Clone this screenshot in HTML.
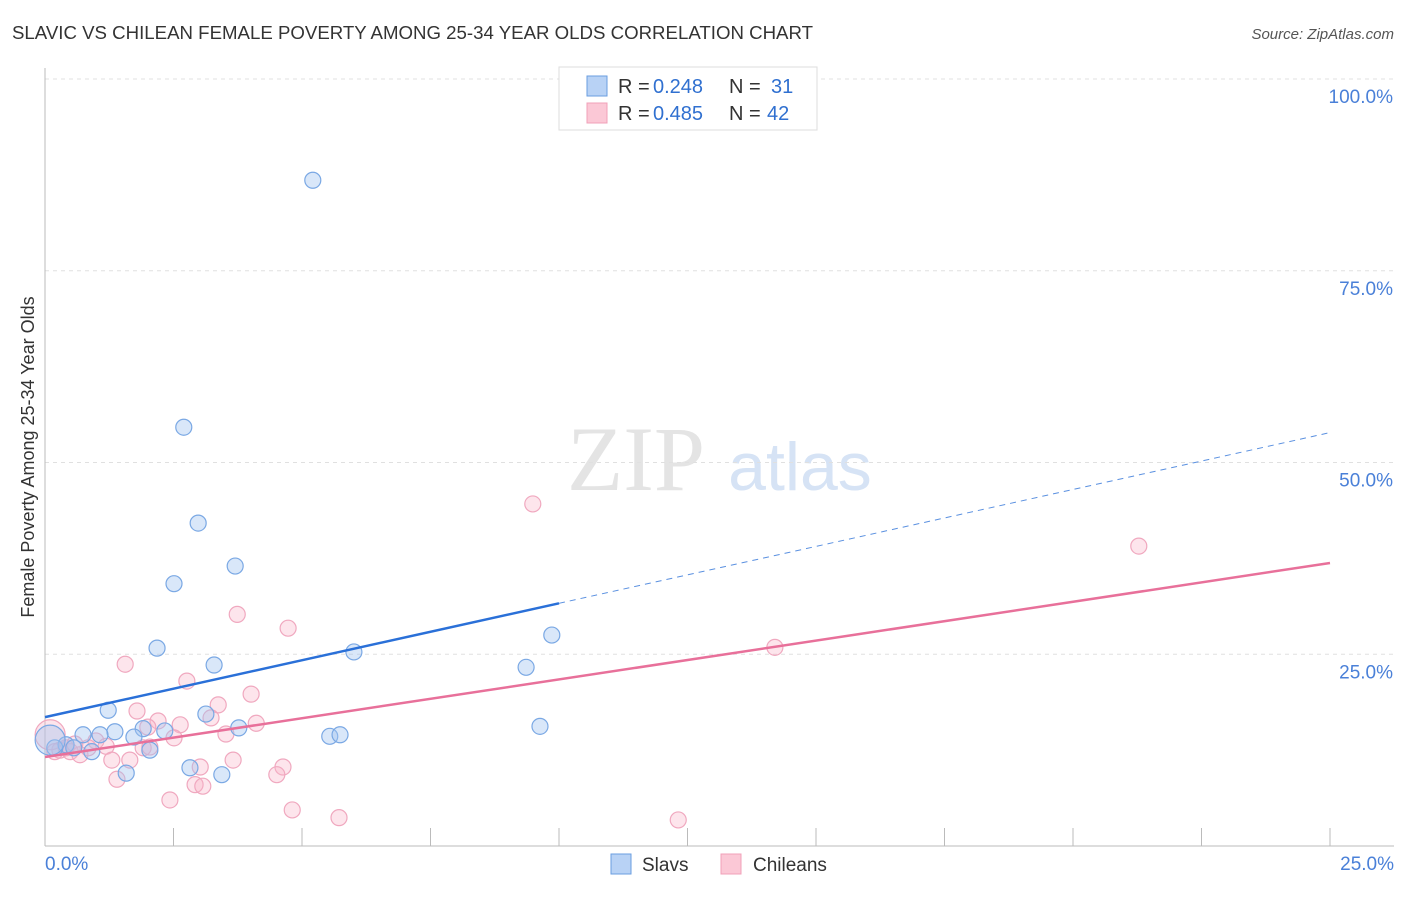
<!DOCTYPE html>
<html><head><meta charset="utf-8"><style>
body{margin:0;background:#fff;font-family:"Liberation Sans",sans-serif}
</style></head><body>
<svg width="1406" height="892" xmlns="http://www.w3.org/2000/svg" id="svg" font-family="Liberation Sans, sans-serif">
<text x="12" y="39" font-size="18" fill="#333" textLength="801" lengthAdjust="spacingAndGlyphs">SLAVIC VS CHILEAN FEMALE POVERTY AMONG 25-34 YEAR OLDS CORRELATION CHART</text>
<text x="1394" y="39" font-size="15" fill="#555" font-style="italic" text-anchor="end">Source: ZipAtlas.com</text>
<text x="636" y="490" font-size="92" fill="#e4e4e4" text-anchor="middle" font-family="Liberation Serif, serif">ZIP</text>
<text x="800" y="490" font-size="68" fill="#d6e3f5" text-anchor="middle">atlas</text>
<text transform="translate(34,457) rotate(-90)" font-size="18" fill="#333" text-anchor="middle">Female Poverty Among 25-34 Year Olds</text>
<g id="grid"></g><g id="axes"></g><g id="marks"></g>
<g>
<rect x="559" y="67" width="258" height="63" fill="#fff" stroke="#ddd"/>
<rect x="587" y="76" width="20" height="20" fill="#b8d2f5" stroke="#6a9ee0"/>
<rect x="587" y="103" width="20" height="20" fill="#fbc8d6" stroke="#f0a0b8"/>
<text x="618" y="93" font-size="20" fill="#333">R =</text>
<text x="653" y="93" font-size="20" fill="#3070d0">0.248</text>
<text x="729" y="93" font-size="20" fill="#333">N =</text>
<text x="771" y="93" font-size="20" fill="#3070d0">31</text>
<text x="618" y="120" font-size="20" fill="#333">R =</text>
<text x="653" y="120" font-size="20" fill="#3070d0">0.485</text>
<text x="729" y="120" font-size="20" fill="#333">N =</text>
<text x="767" y="120" font-size="20" fill="#3070d0">42</text>
</g>
<g>
<rect x="611" y="854" width="20" height="20" fill="#b8d2f5" stroke="#6a9ee0"/>
<text x="642" y="871" font-size="19" fill="#333">Slavs</text>
<rect x="721" y="854" width="20" height="20" fill="#fbc8d6" stroke="#f0a0b8"/>
<text x="753" y="871" font-size="19" fill="#333">Chileans</text>
</g>
</svg>
<script>
const yTicks=[25,50,75,100];
const yTickLabels=["25.0%","50.0%","75.0%","100.0%"];
const slavX=[5.21,2.70,2.98,2.51,3.70,2.18,3.29,6.01,9.86,9.36,9.63,1.23,3.13,3.77,1.91,2.33,1.36,0.74,1.73,5.54,5.74,1.07,0.41,0.56,0.91,2.04,0.19,1.58,2.82,3.44,0.10];
const slavY=[86.8,54.6,42.1,34.2,36.5,25.8,23.6,25.3,27.5,23.3,15.6,17.7,17.2,15.4,15.3,15.0,14.9,14.5,14.2,14.3,14.5,14.5,13.2,12.8,12.3,12.5,12.8,9.5,10.2,9.3,13.8];
const chilX=[9.49,21.28,3.74,4.73,14.20,1.56,2.76,4.01,3.37,1.79,2.20,2.63,3.23,4.11,2.00,2.51,3.52,0.99,1.19,1.65,1.30,3.66,4.63,3.02,4.51,1.40,2.92,3.07,2.43,4.81,5.72,12.32,0.29,0.49,0.68,0.10,0.84,0.41,0.58,0.19,1.91,2.04];
const chilY=[44.6,39.1,30.2,28.4,25.9,23.7,21.5,19.8,18.4,17.6,16.3,15.8,16.7,16.0,15.5,14.1,14.6,13.7,13.0,11.2,11.2,11.2,10.3,10.3,9.3,8.7,8.0,7.8,6.0,4.7,3.7,3.4,12.5,12.3,11.9,14.5,12.8,12.8,13.3,12.3,12.8,12.9];
const slavTrend=[16.8,53.9];
const chilTrend=[11.6,36.9];
const slavSolidEnd=10;
const X=v=>45+v*51.4, Y=v=>846-v*7.67;
const NS="http://www.w3.org/2000/svg";
function mk(t,a,p){const e=document.createElementNS(NS,t);for(const k in a)e.setAttribute(k,a[k]);p.appendChild(e);return e;}
const grid=document.getElementById('grid'),axes=document.getElementById('axes'),marks=document.getElementById('marks');
yTicks.forEach((t,i)=>{
 const l=mk('line',{x1:45,x2:1394,y1:Y(t),y2:Y(t),stroke:'#e0e0e0','stroke-dasharray':'4,4'},grid);
 
 
 const tx=mk('text',{x:1393,y:Y(t)+24,'font-size':19,fill:'#4a80d8','text-anchor':'end'},grid);
 tx.textContent=yTickLabels[i];
 
 
});
const ax=mk('line',{x1:45,x2:45,y1:68,y2:846,stroke:'#bbb'},axes);


const bx=mk('line',{x1:45,x2:1394,y1:846,y2:846,stroke:'#bbb'},axes);


for(let i=0;i<=10;i++){const t=mk('line',{x1:X(i*2.5),x2:X(i*2.5),y1:828,y2:846,stroke:'#bbb'},axes);
 
 }
[["0.0%",45,'start'],["25.0%",1394,'end']].forEach(([s,x,a])=>{const t=mk('text',{x:x,y:870,'font-size':19,fill:'#4a80d8','text-anchor':a},axes);t.textContent=s;
 
 });
function dots(xs,ys,fill,stroke,name){xs.forEach((x,i)=>{const c=mk('circle',{cx:X(x),cy:Y(ys[i]),r:(x<0.15?15:8),fill:fill,stroke:stroke,'stroke-width':1.2},marks);
 
 });}
dots(chilX,chilY,'rgba(248,180,200,0.35)','#f0a8bf','chilean-point');
dots(slavX,slavY,'rgba(160,196,240,0.4)','#7aa8e4','slav-point');
const ty=(tr,x)=>tr[0]+(tr[1]-tr[0])*x/25;
let l=mk('line',{x1:X(0),y1:Y(ty(chilTrend,0)),x2:X(25),y2:Y(ty(chilTrend,25)),stroke:'#e8709a','stroke-width':2.5},marks);


l=mk('line',{x1:X(0),y1:Y(ty(slavTrend,0)),x2:X(slavSolidEnd),y2:Y(ty(slavTrend,slavSolidEnd)),stroke:'#2a70d8','stroke-width':2.5},marks);


l=mk('line',{x1:X(slavSolidEnd),y1:Y(ty(slavTrend,slavSolidEnd)),x2:X(25),y2:Y(ty(slavTrend,25)),stroke:'#5a90e0','stroke-width':1,'stroke-dasharray':'6,5'},marks);


</script>
</body></html>
